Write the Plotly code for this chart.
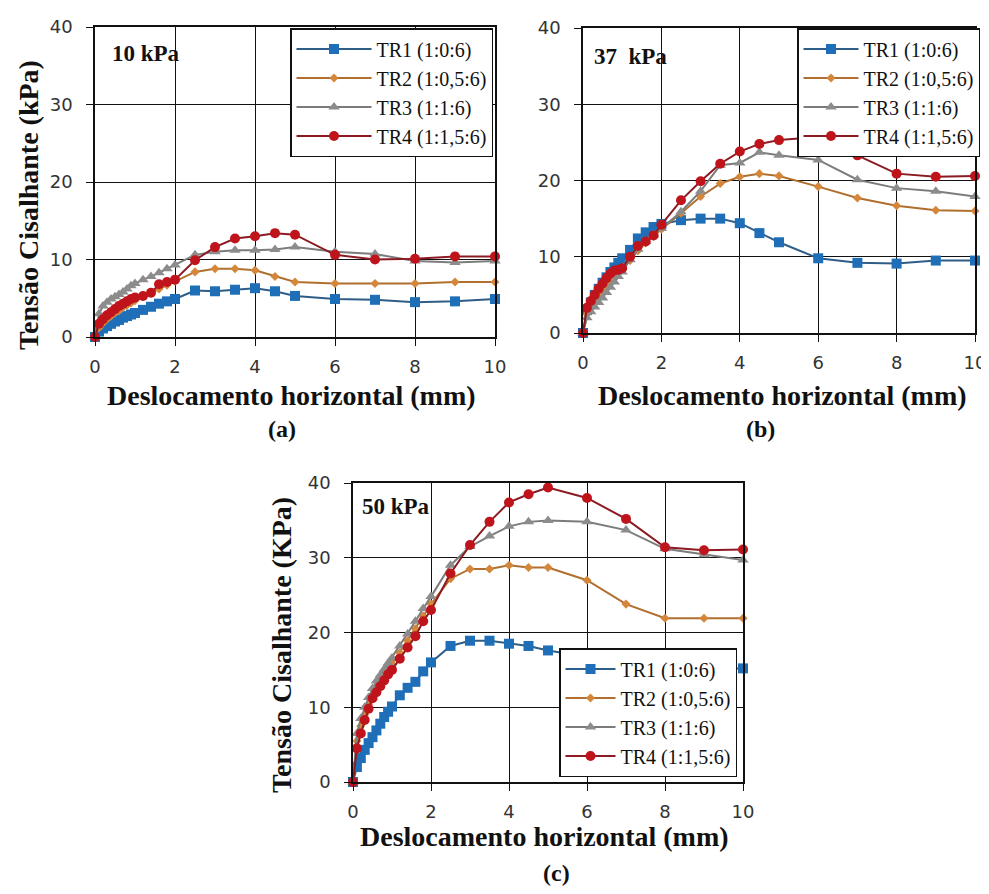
import plotly.graph_objects as go

# Horizontal displacement (mm) - common sampling for all tests
X = [0, 0.1, 0.2, 0.3, 0.4, 0.5, 0.6, 0.7, 0.8, 0.9, 1.0, 1.2, 1.4, 1.6, 1.8, 2.0,
     2.5, 3.0, 3.5, 4.0, 4.5, 5.0, 6.0, 7.0, 8.0, 9.0, 10.0]

SERIES_NAMES = ["TR1 (1:0:6)", "TR2 (1:0,5:6)", "TR3 (1:1:6)", "TR4 (1:1,5:6)"]

# (a) 10 kPa
A_TR1 = [0, 0.7, 1.1, 1.4, 1.7, 2.0, 2.2, 2.5, 2.7, 2.9, 3.1, 3.5, 3.9, 4.3, 4.6, 4.9,
         6.0, 5.9, 6.1, 6.3, 5.9, 5.3, 4.9, 4.8, 4.5, 4.6, 4.9]
A_TR2 = [0, 1.2, 1.8, 2.3, 2.7, 3.1, 3.4, 3.8, 4.1, 4.4, 4.7, 5.2, 5.7, 6.2, 6.7, 7.2,
         8.4, 8.8, 8.8, 8.6, 7.8, 7.1, 6.9, 6.9, 6.9, 7.1, 7.1]
A_TR3 = [0, 3.0, 4.0, 4.5, 4.9, 5.2, 5.5, 5.8, 6.2, 6.6, 6.9, 7.4, 7.8, 8.3, 8.8, 9.3,
         10.6, 11.0, 11.2, 11.2, 11.3, 11.6, 11.0, 10.7, 9.8, 9.6, 9.8]
A_TR4 = [0, 1.7, 2.3, 2.8, 3.2, 3.6, 4.0, 4.3, 4.6, 4.9, 5.1, 5.3, 5.7, 6.8, 7.1, 7.4,
         9.9, 11.6, 12.7, 13.0, 13.4, 13.2, 10.6, 10.0, 10.1, 10.4, 10.4]

# (b) 37 kPa
B_TR1 = [0, 3.0, 4.0, 5.0, 5.8, 6.6, 7.3, 8.0, 8.6, 9.2, 9.8, 10.9, 12.4, 13.2, 13.9, 14.3,
         14.8, 15.0, 15.0, 14.4, 13.1, 11.9, 9.8, 9.2, 9.1, 9.5, 9.5]
B_TR2 = [0, 2.5, 3.3, 4.0, 4.8, 5.5, 6.0, 6.6, 7.2, 7.8, 8.5, 9.5, 10.8, 11.8, 12.7, 13.6,
         15.7, 17.9, 19.6, 20.5, 20.9, 20.6, 19.2, 17.7, 16.7, 16.1, 16.0]
B_TR3 = [0, 2.0, 2.8, 3.4, 4.0, 4.6, 5.3, 6.0, 6.7, 7.4, 8.0, 9.6, 11.0, 12.0, 12.9, 13.7,
         15.9, 18.6, 22.0, 22.3, 23.7, 23.3, 22.7, 20.1, 19.0, 18.6, 17.9]
B_TR4 = [0, 3.3, 4.2, 5.0, 5.8, 6.5, 7.2, 7.8, 8.2, 8.3, 8.5, 10.0, 11.4, 12.0, 12.8, 14.2,
         17.4, 19.9, 22.2, 23.8, 24.8, 25.3, 25.7, 23.3, 20.9, 20.5, 20.6]

# (c) 50 kPa
C_TR1 = [0, 2.0, 3.2, 4.3, 5.2, 6.0, 6.9, 7.8, 8.7, 9.4, 10.1, 11.6, 12.6, 13.4, 14.8, 16.0,
         18.2, 18.9, 18.9, 18.5, 18.2, 17.6, 16.7, 15.9, 15.2, 15.2, 15.2]
C_TR2 = [0, 5.5, 7.5, 9.0, 10.4, 11.6, 12.6, 13.4, 14.2, 15.0, 15.8, 17.3, 18.9, 20.5, 22.2, 23.8,
         27.2, 28.5, 28.5, 29.0, 28.7, 28.7, 27.0, 23.8, 21.9, 21.9, 21.9]
C_TR3 = [0, 6.5, 8.5, 10.0, 11.3, 12.5, 13.5, 14.3, 15.1, 15.9, 16.6, 18.2, 19.8, 21.5, 23.2, 24.8,
         29.0, 31.5, 32.9, 34.2, 34.8, 35.0, 34.8, 33.7, 31.2, 30.4, 29.7]
C_TR4 = [0, 4.5, 6.5, 8.3, 9.8, 11.2, 12.0, 12.8, 13.6, 14.4, 15.0, 16.5, 18.0, 19.5, 21.5, 23.0,
         27.9, 31.7, 34.8, 37.4, 38.5, 39.4, 38.0, 35.2, 31.4, 31.0, 31.1]

X_TICKS = [0, 2, 4, 6, 8, 10]
Y_TICKS = [0, 10, 20, 30, 40]
PANEL_LOADS = ["10 kPa", "37  kPa", "50 kPa"]
PANEL_TAGS = ["(a)", "(b)", "(c)"]

styles = [
    dict(symbol="square", size=10, color="#1f6fb8", line="#2e5d87"),
    dict(symbol="diamond", size=7, color="#d4873a", line="#b06f2e"),
    dict(symbol="triangle-up", size=10, color="#8c8c8c", line="#7c7c7c"),
    dict(symbol="circle", size=10, color="#c0141c", line="#8b1a22"),
]

panels = [
    ("x", "y", "legend", [A_TR1, A_TR2, A_TR3, A_TR4]),
    ("x2", "y2", "legend2", [B_TR1, B_TR2, B_TR3, B_TR4]),
    ("x3", "y3", "legend3", [C_TR1, C_TR2, C_TR3, C_TR4]),
]

fig = go.Figure()
for xa, ya, lg, series in panels:
    for name, ys, st in zip(SERIES_NAMES, series, styles):
        fig.add_trace(go.Scatter(
            x=X, y=ys, name=name, mode="lines+markers",
            xaxis=xa, yaxis=ya, legend=lg, cliponaxis=False,
            line=dict(color=st["line"], width=2),
            marker=dict(symbol=st["symbol"], size=st["size"], color=st["color"],
                        line=dict(width=0)),
        ))

# page has an 8px body margin: figure starts at (8, 8) and runs to the window edges
OFF = 8
W, H = 989 - OFF, 894 - OFF
def px(v):
    return (v - OFF) / W
def py(v):
    return 1 - (v - OFF) / H

SERIF = "Liberation Serif, Times New Roman, serif"
tickfont = dict(family="DejaVu Sans", size=18, color="#333333")
axcommon = dict(showgrid=True, gridcolor="#111111", gridwidth=1,
                showline=True, linecolor="#111111", linewidth=1.5, mirror=True,
                ticks="outside", ticklen=7, tickcolor="#111111", zeroline=False,
                tickfont=tickfont, automargin=False, ticklabeloverflow="allow")
xcommon = dict(range=[0, 10], tickvals=X_TICKS, ticklabelstandoff=6, **axcommon)
ycommon = dict(range=[0, 40], tickvals=Y_TICKS, ticklabelstandoff=10, **axcommon)

legfont = dict(family=SERIF, size=20, color="#111111")
legcommon = dict(font=legfont, bgcolor="white", bordercolor="#111111", borderwidth=1.5,
                 tracegroupgap=0)

fig.update_layout(
    width=W, height=H, margin=dict(l=0, r=0, t=0, b=0, autoexpand=False),
    paper_bgcolor="white", plot_bgcolor="white",
    xaxis=dict(domain=[px(95), px(495)], anchor="y", **xcommon),
    yaxis=dict(domain=[py(337), py(27)], anchor="x", **ycommon),
    xaxis2=dict(domain=[px(583), px(975)], anchor="y2", **xcommon),
    yaxis2=dict(domain=[py(333), py(28)], anchor="x2", **ycommon),
    xaxis3=dict(domain=[px(353), px(743)], anchor="y3", **xcommon),
    yaxis3=dict(domain=[py(782), py(483)], anchor="x3", **ycommon),
    legend=dict(x=px(493), y=py(28), xanchor="right", yanchor="top", itemwidth=75, **legcommon),
    legend2=dict(x=px(980), y=py(28), xanchor="right", yanchor="top", itemwidth=55, **legcommon),
    legend3=dict(x=px(737), y=py(777), xanchor="right", yanchor="bottom", itemwidth=50, **legcommon),
    showlegend=True,
)

titlefont = dict(family=SERIF, size=28, color="#111111")
xtitle = "<b>Deslocamento horizontal (mm)</b>"
annots = [
    # x axis titles
    dict(text=xtitle, x=px(291), y=py(395)),
    dict(text=xtitle, x=px(782), y=py(395)),
    dict(text=xtitle, x=px(544), y=py(836)),
    # y axis titles
    dict(text="<b>Tensão Cisalhante (kPa)</b>", x=px(28), y=py(205), textangle=-90),
    dict(text="<b>Tensão Cisalhante (KPa)</b>", x=px(281), y=py(645), textangle=-90),
]
for a in annots:
    fig.add_annotation(xref="paper", yref="paper", showarrow=False,
                       xanchor="center", yanchor="middle", font=titlefont, **a)

loadfont = dict(family=SERIF, size=23, color="#111111")
for (xl, yl), txt in zip([(110, 53), (592, 57), (360, 507)], PANEL_LOADS):
    fig.add_annotation(xref="paper", yref="paper", showarrow=False, x=px(xl), y=py(yl),
                       xanchor="left", yanchor="middle", text="<b>" + txt + "</b>", font=loadfont)

tagfont = dict(family=SERIF, size=24, color="#111111")
for (xl, yl), txt in zip([(282, 429), (760, 429), (556, 873)], PANEL_TAGS):
    fig.add_annotation(xref="paper", yref="paper", showarrow=False, x=px(xl), y=py(yl),
                       xanchor="center", yanchor="middle", text="<b>" + txt + "</b>", font=tagfont)

fig.write_html("out.html")
